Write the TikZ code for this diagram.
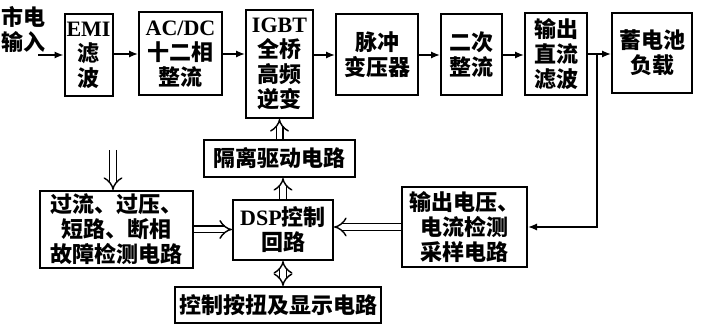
\documentclass[tikz,border=0pt]{standalone}
\usepackage{fontspec}
\setmainfont{Liberation Serif}
\newfontfamily\cjk{Noto Sans CJK SC}
\usetikzlibrary{arrows.meta, calc}
\newcommand{\lat}[1]{{\rmfamily\bfseries #1}}
\tikzset{
  arr/.style={-{Latex[length=4.5pt,width=3.6pt]}, line width=0.8pt},
  darr/.style={-{Implies[scale=1.4]}, double, double distance=2.6pt, line width=0.7pt},
  ddarr/.style={{Implies[scale=1.4]}-{Implies[scale=1.4]}, double, double distance=2.6pt, line width=0.7pt},
  blk/.style={draw, line width=1pt, align=center, inner sep=1pt}
}
\begin{document}
\begin{tikzpicture}[x=0.5pt, y=-0.5pt, font=\cjk\bfseries\fontsize{11}{12.5}\selectfont]
\useasboundingbox (0,0) rectangle (713,331);
% power path
\node[align=left, inner sep=0pt, anchor=west] (mains) at (1,29) {市电\\输入};
\coordinate (in) at (38,55);
\node[blk, minimum width=23.5pt, minimum height=41pt] (emi) at (88.5,55) {\lat{EMI}\\滤\\波};
\node[blk, minimum width=41.5pt, minimum height=41.5pt] (acdc) at (180.5,54) {\lat{AC/DC}\\十二相\\整流};
\node[blk, minimum width=33.5pt, minimum height=54pt] (igbt) at (279.5,64) {\lat{IGBT}\\全桥\\高频\\逆变};
\node[blk, minimum width=41pt, minimum height=40.5pt] (pulse) at (377,55) {脉冲\\变压器};
\node[blk, minimum width=30.5pt, minimum height=40.5pt] (rect) at (471.5,55) {二次\\整流};
\node[blk, minimum width=31pt, minimum height=41pt] (filt) at (556,54) {输出\\直流\\滤波};
\node[blk, minimum width=40pt, minimum height=40pt] (batt) at (652,53) {蓄电池\\负载};
% control part
\node[blk, minimum width=75.5pt, minimum height=18.5pt] (iso) at (279.5,158.5) {隔离驱动电路};
\node[blk, minimum width=50pt, minimum height=30pt] (dsp) at (283,230) {\lat{DSP}控制\\回路};
\node[blk, minimum width=76.5pt, minimum height=38.5pt] (fault) at (116.5,229.5) {过流、过压、\\短路、断相\\故障检测电路};
\node[blk, minimum width=62.5pt, minimum height=40pt] (samp) at (464.5,227) {输出电压、\\电流检测\\采样电路};
\node[blk, minimum width=103pt, minimum height=18pt] (keys) at (278,305) {控制按扭及显示电路};
\coordinate (tap) at ($(filt.east)!0.4!(batt.west)$);
\coordinate (flt) at (113,150);
\draw[arr] (in) -- (in -| emi.west);
\draw[arr] (emi.east |- acdc.west) -- (acdc.west);
\draw[arr] (acdc.east) -- (acdc.east -| igbt.west);
\draw[arr] (igbt.east |- pulse.west) -- (pulse.west);
\draw[arr] (pulse.east) -- (rect.west);
\draw[arr] (rect.east) -- (rect.east -| filt.west);
\draw[arr] (filt.east) -- (filt.east -| batt.west);
\draw[arr] (tap) |- (samp.east);
\draw[darr] (iso.north) -- (igbt.south);
\draw[darr] (dsp.north) -- (dsp.north |- iso.south);
\draw[ddarr] (dsp.south) -- (dsp.south |- keys.north);
\draw[darr] (fault.east) -- (fault.east -| dsp.west);
\draw[darr] (samp.west) -- (samp.west -| dsp.east);
\draw[darr] (flt) -- (flt |- fault.north);
\end{tikzpicture}
\end{document}
